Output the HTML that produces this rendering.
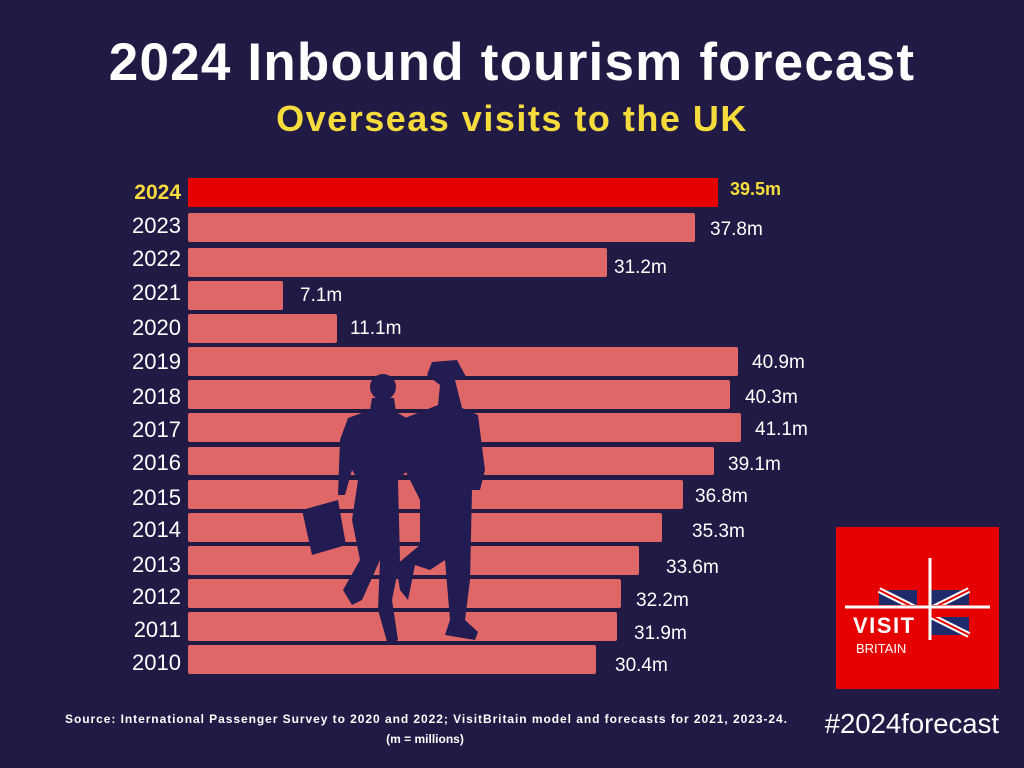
<!DOCTYPE html>
<html><head><meta charset="utf-8"><style>
html,body{margin:0;padding:0}
body{width:1024px;height:768px;background:#201a45;position:relative;overflow:hidden;font-family:"Liberation Sans",Arial,sans-serif;color:#fff}
.t{position:absolute;white-space:nowrap}
</style></head><body>
<div class="t" style="left:0;width:1024px;text-align:center;top:32px;font-size:53px;font-weight:bold;letter-spacing:1.2px">2024 Inbound tourism forecast</div>
<div class="t" style="left:0;width:1024px;text-align:center;top:98px;font-size:36px;font-weight:bold;color:#f5dc3c;letter-spacing:1.5px">Overseas visits to the UK</div>
<svg width="1024" height="768" style="position:absolute;left:0;top:0" font-family="Liberation Sans, Arial, sans-serif">
<g fill="#e06767">
<rect x="188" y="178" width="530" height="29" fill="#e60000"/>
<rect x="188" y="213" width="507" height="29" rx="2"/>
<rect x="188" y="248" width="419" height="29" rx="2"/>
<rect x="188" y="281" width="95" height="29" rx="2"/>
<rect x="188" y="314" width="149" height="29" rx="2"/>
<rect x="188" y="347" width="550" height="29" rx="2"/>
<rect x="188" y="380" width="542" height="29" rx="2"/>
<rect x="188" y="413" width="553" height="29" rx="2"/>
<rect x="188" y="447" width="526" height="28" rx="2"/>
<rect x="188" y="480" width="495" height="29" rx="2"/>
<rect x="188" y="513" width="474" height="29" rx="2"/>
<rect x="188" y="546" width="451" height="29" rx="2"/>
<rect x="188" y="579" width="433" height="29" rx="2"/>
<rect x="188" y="612" width="429" height="29" rx="2"/>
<rect x="188" y="645" width="408" height="29" rx="2"/>
</g>
<g fill="#221c52">
<circle cx="383" cy="387" r="13"/>
<polygon points="372,398 394,398 396,412 410,420 408,470 398,480 400,560 392,600 398,640 388,645 378,610 380,560 362,600 352,605 343,590 360,560 352,520 358,480 352,470 345,495 338,495 340,440 348,418 370,410"/>
<polygon points="302,510 338,500 346,545 312,555"/>
<polygon points="427,375 432,362 457,360 465,375 468,378 455,380 462,408 478,415 485,470 480,490 472,490 470,580 465,620 478,632 475,640 445,635 450,620 445,560 430,570 415,565 408,600 400,590 396,565 420,545 420,500 405,470 400,420 438,405 440,385"/>
</g>
<g font-size="22" fill="#fff" text-anchor="end">
<text x="181" y="199" fill="#f5dc3c" font-weight="bold" font-size="21">2024</text>
<text x="181" y="233">2023</text>
<text x="181" y="266">2022</text>
<text x="181" y="300">2021</text>
<text x="181" y="335">2020</text>
<text x="181" y="369">2019</text>
<text x="181" y="404">2018</text>
<text x="181" y="437">2017</text>
<text x="181" y="470">2016</text>
<text x="181" y="505">2015</text>
<text x="181" y="537">2014</text>
<text x="181" y="572">2013</text>
<text x="181" y="604">2012</text>
<text x="181" y="637">2011</text>
<text x="181" y="670">2010</text>
</g>
<g font-size="19" fill="#fff">
<text x="730" y="195" fill="#f5dc3c" font-weight="bold" font-size="18">39.5m</text>
<text x="710" y="235">37.8m</text>
<text x="614" y="273">31.2m</text>
<text x="300" y="301">7.1m</text>
<text x="350" y="334">11.1m</text>
<text x="752" y="368">40.9m</text>
<text x="745" y="403">40.3m</text>
<text x="755" y="435">41.1m</text>
<text x="728" y="470">39.1m</text>
<text x="695" y="502">36.8m</text>
<text x="692" y="537">35.3m</text>
<text x="666" y="573">33.6m</text>
<text x="636" y="606">32.2m</text>
<text x="634" y="639">31.9m</text>
<text x="615" y="671">30.4m</text>
</g>
<rect x="836" y="527" width="163" height="162" fill="#e60000"/>
<rect x="879" y="590" width="90" height="45" fill="#1e2a6a"/>
<g stroke="#fff" stroke-width="6"><line x1="879" y1="590" x2="969" y2="635"/><line x1="969" y1="590" x2="879" y2="635"/></g>
<g stroke="#e60000" stroke-width="2"><line x1="879" y1="590" x2="969" y2="635"/><line x1="969" y1="590" x2="879" y2="635"/></g>
<rect x="917" y="590" width="14" height="45" fill="#e60000"/>
<rect x="879" y="605" width="90" height="12" fill="#e60000"/>
<rect x="845" y="609" width="84" height="40" fill="#e60000"/>
<line x1="845" y1="607" x2="990" y2="607" stroke="#fff" stroke-width="3"/>
<line x1="930" y1="558" x2="930" y2="640" stroke="#fff" stroke-width="3"/>
<text x="853" y="633" font-size="22" font-weight="bold" fill="#fff" letter-spacing="1.5">VISIT</text>
<text x="856" y="653" font-size="13" fill="#fff">BRITAIN</text>
<text x="426" y="723" font-size="12" font-weight="bold" fill="#fff" text-anchor="middle" textLength="722">Source: International Passenger Survey to 2020 and 2022; VisitBritain model and forecasts for 2021, 2023-24.</text>
<text x="425" y="743" font-size="12" font-weight="bold" fill="#fff" text-anchor="middle">(m = millions)</text>
<text x="999" y="733" font-size="27.5" fill="#fff" text-anchor="end">#2024forecast</text>
</svg>
</body></html>
